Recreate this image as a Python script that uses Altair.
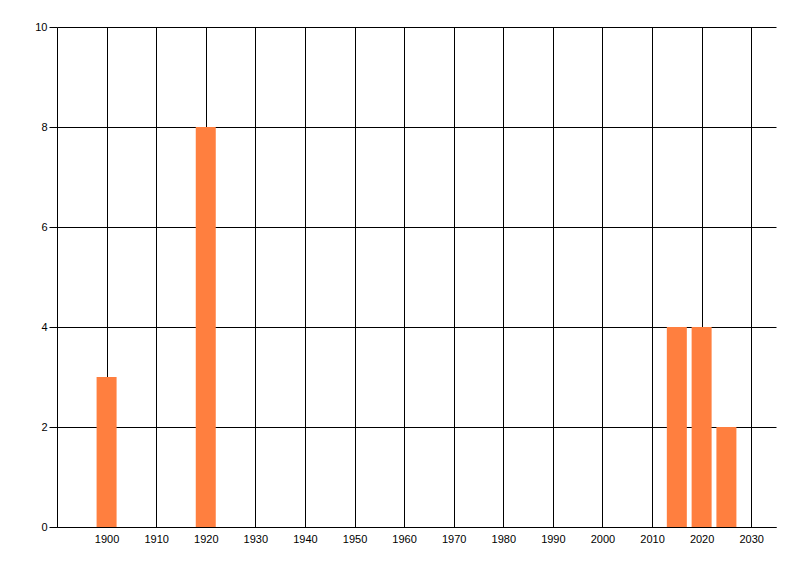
import altair as alt
import pandas as pd

years = [1900, 1920, 2015, 2020, 2025]
counts = [3, 8, 4, 4, 2]
x_ticks = [1900, 1910, 1920, 1930, 1940, 1950, 1960, 1970, 1980, 1990, 2000, 2010, 2020, 2030]
y_ticks = [0, 2, 4, 6, 8, 10]

df = pd.DataFrame({"year": years, "count": counts})

chart = alt.Chart(df).mark_bar(size=20, color="#FF7F3F").encode(
    x=alt.X("year:Q",
            scale=alt.Scale(domain=[1890, 2035], nice=False, zero=False, padding=0),
            axis=alt.Axis(values=x_ticks, title=None, format="d", grid=True,
                          gridColor="black", gridOpacity=1, gridWidth=1,
                          domainColor="black", tickSize=0, labelPadding=6,
                          labelFont="Liberation Sans", labelFontSize=11,
                          labelColor="black")),
    y=alt.Y("count:Q",
            scale=alt.Scale(domain=[0, 10], nice=False),
            axis=alt.Axis(values=y_ticks, title=None, grid=True,
                          gridColor="black", gridOpacity=1, gridWidth=1,
                          domainColor="black", tickColor="black", tickSize=8,
                          labelPadding=2, labelFont="Liberation Sans",
                          labelFontSize=11, labelColor="black")),
).properties(
    width=719, height=500,
    autosize=alt.AutoSizeParams(type="none"),
    padding={"left": 49, "top": 19, "right": 10, "bottom": 30},
    background="white",
).configure_view(stroke=None)

chart.save("out.html", embed_options={"renderer": "svg", "actions": False})
